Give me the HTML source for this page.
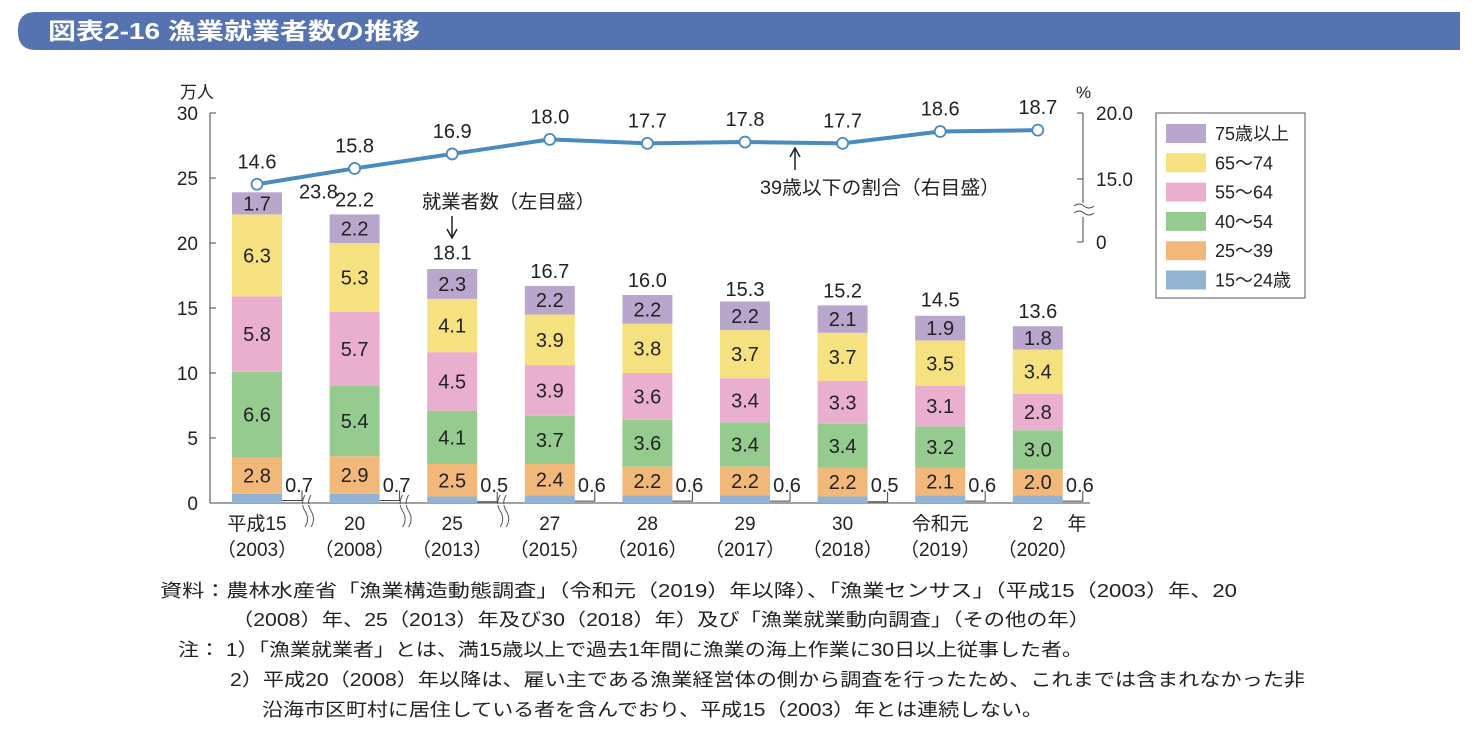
<!DOCTYPE html>
<html><head><meta charset="utf-8"><style>
body{margin:0;width:1480px;height:734px;background:#fff;overflow:hidden;font-family:"Liberation Sans","Noto Sans CJK JP",sans-serif;}
svg text{font-family:"Liberation Sans","Noto Sans CJK JP",sans-serif;}
</style></head><body>
<svg width="1480" height="734">
<path d="M36,12 H1460 V50 H36 Q18,50 18,32 V30 Q18,12 36,12Z" fill="#5673b1"/>
<text x="48" y="39" fill="#fff" font-size="23" font-weight="bold" textLength="372" lengthAdjust="spacingAndGlyphs">図表2-16 漁業就業者数の推移</text>
<g id="g"></g>
<g font-size="18" fill="#222">
<text x="160" y="597" textLength="1077" lengthAdjust="spacingAndGlyphs">資料：農林水産省「漁業構造動態調査」（令和元（2019）年以降）、「漁業センサス」（平成15（2003）年、20</text>
<text x="232" y="626" textLength="858" lengthAdjust="spacingAndGlyphs">（2008）年、25（2013）年及び30（2018）年）及び「漁業就業動向調査」（その他の年）</text>
<text x="178" y="656" textLength="905" lengthAdjust="spacingAndGlyphs">注： 1）「漁業就業者」とは、満15歳以上で過去1年間に漁業の海上作業に30日以上従事した者。</text>
<text x="230" y="686" textLength="1075" lengthAdjust="spacingAndGlyphs">2）平成20（2008）年以降は、雇い主である漁業経営体の側から調査を行ったため、これまでは含まれなかった非</text>
<text x="262" y="716" textLength="781" lengthAdjust="spacingAndGlyphs">沿海市区町村に居住している者を含んでおり、平成15（2003）年とは連続しない。</text>
</g>
</svg>
<script>
const categories=["平成15","20","25","27","28","29","30","令和元","2"];
const years=["(2003)","(2008)","(2013)","(2015)","(2016)","(2017)","(2018)","(2019)","(2020)"];
const age15=[0.7,0.7,0.5,0.6,0.6,0.6,0.5,0.6,0.6];
const age25=[2.8,2.9,2.5,2.4,2.2,2.2,2.2,2.1,2.0];
const age40=[6.6,5.4,4.1,3.7,3.6,3.4,3.4,3.2,3.0];
const age55=[5.8,5.7,4.5,3.9,3.6,3.4,3.3,3.1,2.8];
const age65=[6.3,5.3,4.1,3.9,3.8,3.7,3.7,3.5,3.4];
const age75=[1.7,2.2,2.3,2.2,2.2,2.2,2.1,1.9,1.8];
const totals=[23.8,22.2,18.1,16.7,16.0,15.3,15.2,14.5,13.6];
const ratio=[14.6,15.8,16.9,18.0,17.7,17.8,17.7,18.6,18.7];
const leftTicks=[0,5,10,15,20,25,30];
const rightTicks=[0,15.0,20.0];
const seriesNames=["15～24歳","25～39","40～54","55～64","65～74","75歳以上"];
const colors=["#92b4d2","#f2b87a","#96cb8f","#eaafcf","#f5e17f","#b9a6cc"];
const series=[age15,age25,age40,age55,age65,age75];
const NS="http://www.w3.org/2000/svg";
const g=document.getElementById('g');
const y=v=>503-13*v;
const yr=v=>v<14?242:113+(20-v)*13.2;
const x=i=>257+i*97.6;
function el(t,a,p){const e=document.createElementNS(NS,t);for(const k in a)e.setAttribute(k,a[k]);(p||g).appendChild(e);return e;}
function tx(s,a){const e=el('text',a);e.textContent=s;return e;}
const la=el('line',{x1:210,y1:113,x2:210,y2:503,stroke:'#444','stroke-width':1});


el('line',{x1:210,y1:503,x2:1090,y2:503,stroke:'#444'});
leftTicks.forEach(v=>{el('line',{x1:210,y1:y(v),x2:216,y2:y(v),stroke:'#444'});
const t=tx(String(v),{x:198,y:y(v)+7,'font-size':19,'text-anchor':'end',fill:'#222'});

});
tx('万人',{x:180,y:98,'font-size':17,fill:'#222'});
el('path',{d:'M1083,113 V203 M1083,217 V242',stroke:'#444',fill:'none'});
el('path',{d:'M1074,206 q5,-4 10,0 t10,0 M1074,213 q5,-4 10,0 t10,0',stroke:'#444',fill:'none'});
rightTicks.forEach(v=>{el('line',{x1:1077,y1:yr(v),x2:1083,y2:yr(v),stroke:'#444'});
const t=tx(v===0?'0':v.toFixed(1),{x:1096,y:yr(v)+7,'font-size':19,fill:'#222'});

});
tx('%',{x:1076,y:98,'font-size':17,fill:'#222'});
categories.forEach((c,i)=>{let base=0;const cx=x(i);
series.forEach((s,k)=>{const v=s[i];
const r=el('rect',{x:cx-25,y:y(base+v),width:50,height:13*v,fill:colors[k]});


if(k>0){tx(v.toFixed(1),{x:cx,y:y(base+v/2)+7,'font-size':20,'text-anchor':'middle',fill:'#222'});}
else{el('path',{d:`M${cx+25},${y(v/2)+2} H${cx+45} V${y(v/2)-8}`,stroke:'#444',fill:'none'});
tx(v.toFixed(1),{x:cx+42,y:y(0)-11,'font-size':20,'text-anchor':'middle',fill:'#222'});}
base+=v;});
const tl=i===0?tx(totals[i].toFixed(1),{x:cx+42,y:y(totals[i])+5,'font-size':20,'text-anchor':'start',fill:'#222'}):tx(totals[i].toFixed(1),{x:cx,y:y(totals[i])-8,'font-size':20,'text-anchor':'middle',fill:'#222'});


tx(c,{x:cx,y:530,'font-size':19,'text-anchor':'middle',fill:'#222'});
tx(years[i].replace('(','（').replace(')','）'),{x:cx,y:556,'font-size':19,'text-anchor':'middle',fill:'#222'});
if(i<3){const bx=cx+48;el('path',{d:`M${bx},495 q-5,8 0,16 t0,16 M${bx+6},495 q-5,8 0,16 t0,16`,stroke:'#555',fill:'none'});el('rect',{x:bx-3,y:504,width:8,height:1,fill:'#fff'});}
});
tx('年',{x:1077,y:530,'font-size':19,'text-anchor':'middle',fill:'#222'});
const pl=el('polyline',{points:ratio.map((v,i)=>x(i)+','+yr(v)).join(' '),fill:'none',stroke:'#4a8bbd','stroke-width':4});


ratio.forEach((v,i)=>{const c=el('circle',{cx:x(i),cy:yr(v),r:5.5,fill:'#fff',stroke:'#4a8bbd','stroke-width':1.8});


tx(v.toFixed(1),{x:x(i),y:yr(v)-16,'font-size':20,'text-anchor':'middle',fill:'#222'});});
tx('就業者数（左目盛）',{x:422,y:208,'font-size':19,textLength:173,lengthAdjust:'spacingAndGlyphs',fill:'#222'});
el('path',{d:'M452,216 V236 M447,229 L452,238 L457,229',stroke:'#222',fill:'none','stroke-width':1.5});
tx('39歳以下の割合（右目盛）',{x:760,y:194,'font-size':19,textLength:240,lengthAdjust:'spacingAndGlyphs',fill:'#222'});
el('path',{d:'M795,170 V150 M790,157 L795,148 L800,157',stroke:'#222',fill:'none','stroke-width':1.5});
const lg=el('rect',{x:1156,y:113,width:149,height:185,fill:'#fff',stroke:'#555'});


for(let k=5;k>=0;k--){const j=5-k;const yy=124+j*29.3;
el('rect',{x:1166,y:yy,width:40,height:19,fill:colors[k]});
const t=tx(seriesNames[k],{x:1215,y:yy+16,'font-size':18,fill:'#222'});

}
</script>
</body></html>
